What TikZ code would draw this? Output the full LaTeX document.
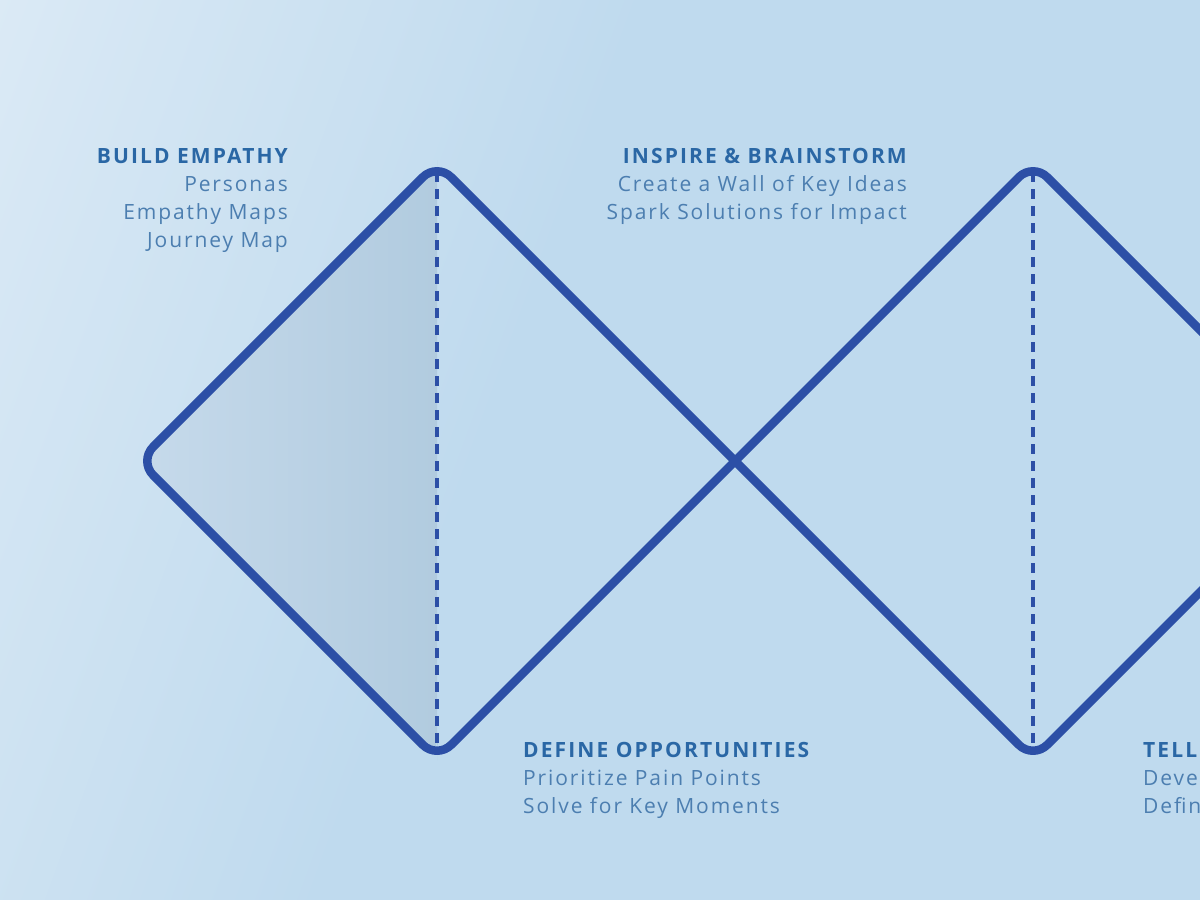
\documentclass[tikz,border=0pt]{standalone}
\usepackage{fontspec}
\setmainfont{Open Sans}
\newfontfamily\spacedfont[LetterSpace=9]{Open Sans}
\newfontfamily\spacedboldfont[LetterSpace=10]{Open Sans}
\definecolor{bgA}{HTML}{F0F6FC}
\definecolor{bgM}{HTML}{D6E7F4}
\definecolor{bgB}{HTML}{BFDAEE}
\definecolor{triL}{HTML}{C6DAEB}
\definecolor{triR}{HTML}{B1CBDF}
\definecolor{lineblue}{HTML}{2C4FA6}
\definecolor{titleblue}{HTML}{2A67A5}
\definecolor{bodyblue}{HTML}{4C7EB0}
\pgfdeclarehorizontalshading{bgshade}{100bp}{color(0bp)=(bgA); color(22bp)=(bgM); color(45bp)=(bgB); color(100bp)=(bgB)}
\tikzset{
  outline/.style={draw=lineblue, line width=8.5pt, rounded corners=20pt, line join=round},
  midline/.style={draw=lineblue, line width=3.5pt, dash pattern=on 10pt off 7pt},
  ttl/.style={font=\spacedboldfont\fontsize{21}{25}\selectfont\bfseries, text=titleblue, inner sep=0pt},
  body/.style={font=\spacedfont\fontsize{21}{25}\selectfont, text=bodyblue, inner sep=0pt},
}
\begin{document}
\begin{tikzpicture}[x=1pt,y=-1pt]
\useasboundingbox (0,0) rectangle (1200,900);
\clip (0,0) rectangle (1200,900);
\shade[shading=bgshade, shading angle=-20] (0,0) rectangle (1200,900);
\coordinate (L1) at (139,461);
\coordinate (T1) at (437,163);
\coordinate (B1) at (437,759);
\coordinate (X) at (735,461);
\coordinate (T2) at (1033,163);
\coordinate (B2) at (1033,759);
\coordinate (R2) at (1331,461);
% shaded left triangle
\shade[left color=triL, right color=triR, rounded corners=20pt] (437,180) -- (T1) -- (L1) -- (B1) -- (437,740) -- cycle;
% dashed centre lines
\draw[midline] (437,172) -- (437,752);
\draw[midline] (1033,172) -- (1033,752);
% double diamond outline
\draw[outline] (X) -- (T1) -- (L1) -- (B1) -- (X) -- (T2) -- (R2) -- (B2) -- cycle;
% texts
\node[ttl, anchor=base east] (be) at (288,163) {BUILD EMPATHY};
\node[body, anchor=base east] (be1) at (288,191) {Personas};
\node[body, anchor=base east] (be2) at (288,219) {Empathy Maps};
\node[body, anchor=base east] (be3) at (288,247) {Journey Map};
\node[ttl, anchor=base east] (ib) at (907,163) {INSPIRE \& BRAINSTORM};
\node[body, anchor=base east] (ib1) at (907,191) {Create a Wall of Key Ideas};
\node[body, anchor=base east] (ib2) at (907,219) {Spark Solutions for Impact};
\node[ttl, anchor=base west] (do) at (523,757) {DEFINE OPPORTUNITIES};
\node[body, anchor=base west] (do1) at (523,785) {Prioritize Pain Points};
\node[body, anchor=base west] (do2) at (523,813) {Solve for Key Moments};
\node[ttl, anchor=base west] (ts) at (1143,757) {TELL};
\node[body, anchor=base west] (ts1) at (1143,785) {Develop};
\node[body, anchor=base west] (ts2) at (1143,813) {Define};
\end{tikzpicture}
\end{document}
